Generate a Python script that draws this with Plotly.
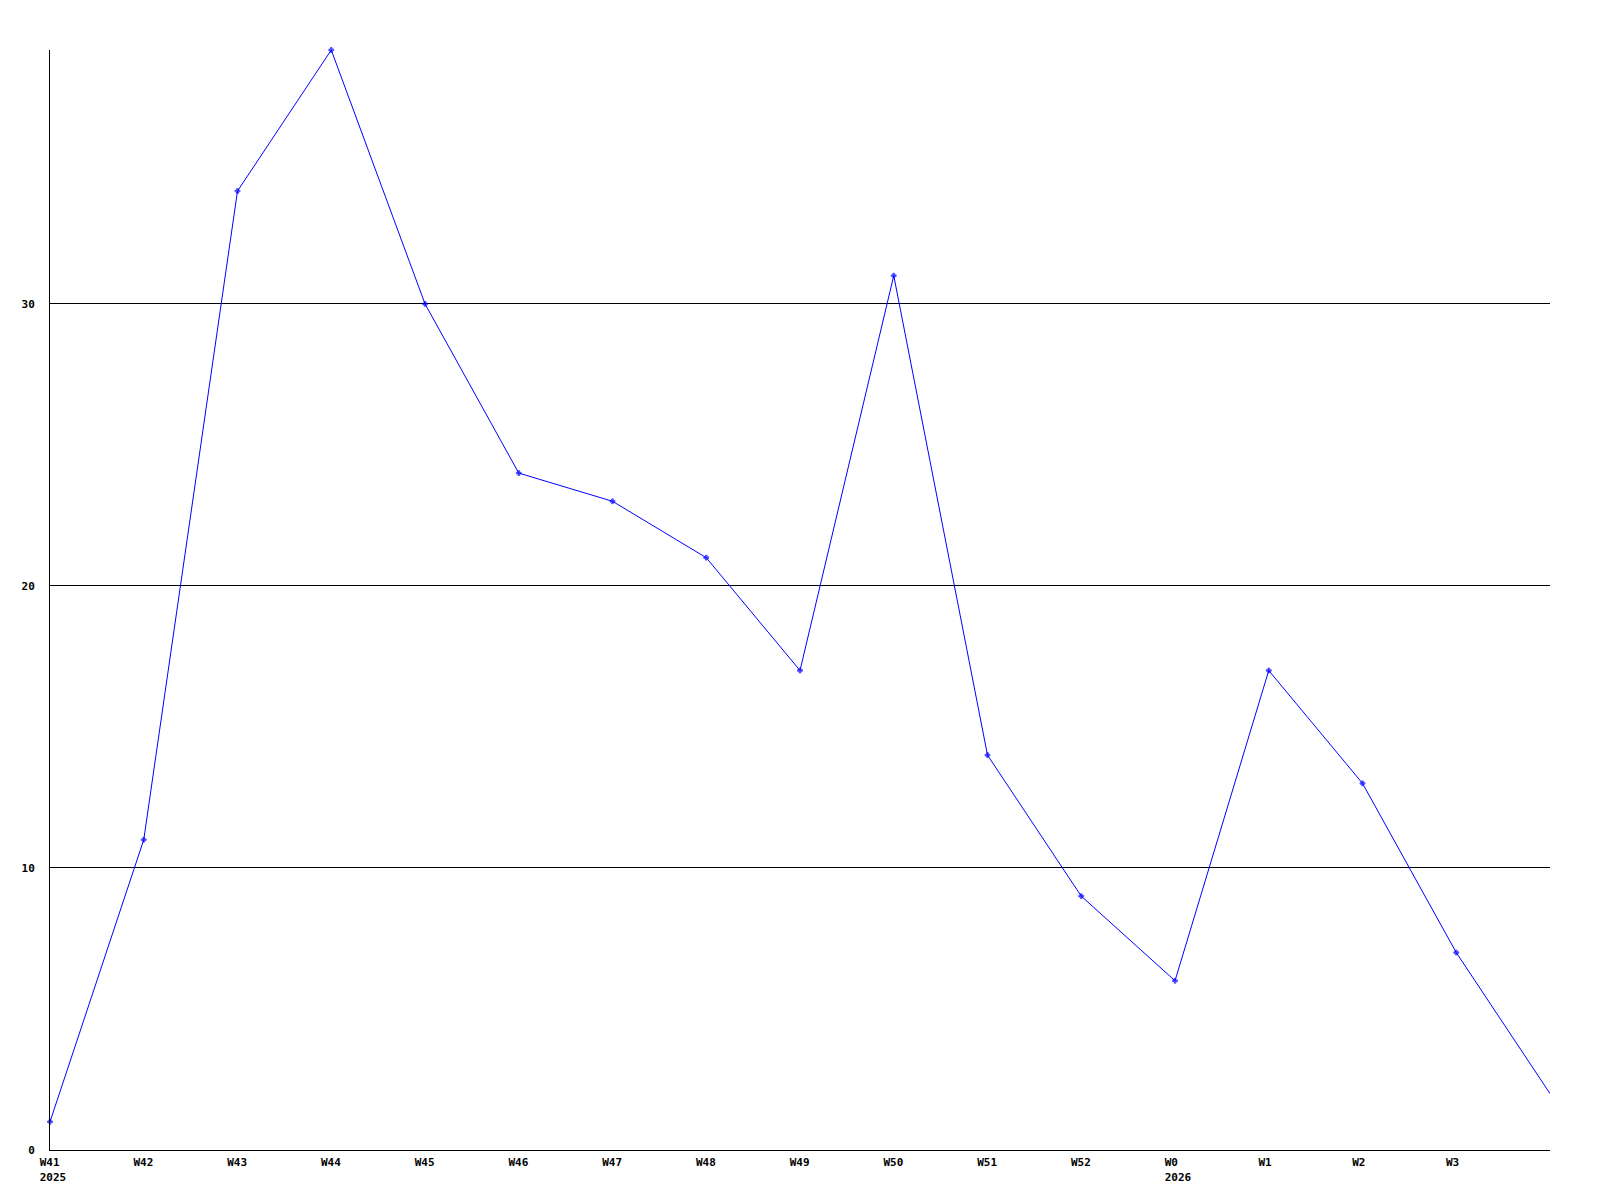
import plotly.graph_objects as go

weeks = ["W41", "W42", "W43", "W44", "W45", "W46", "W47", "W48", "W49",
         "W50", "W51", "W52", "W0", "W1", "W2", "W3", "W4"]
years = {"W41": "2025", "W0": "2026"}
values = [1, 11, 34, 39, 30, 24, 23, 21, 17, 31, 14, 9, 6, 17, 13, 7, 2]
y_ticks = [0, 10, 20, 30]

x = list(range(len(weeks)))
NB = "\u00a0"


def pad(s, n=4):
    return s + NB * (n - len(s))


labels = [pad(w) + ("<br>" + pad(years[w]) if w in years else "") for w in weeks]

sizes = [4] * (len(weeks) - 1) + [0]

fig = go.Figure()
fig.add_trace(go.Scatter(
    x=x, y=values, mode="lines+markers",
    line=dict(color="#0000ff", width=1),
    marker=dict(symbol="cross", size=sizes, color="#0000ff",
                line=dict(color="#0000ff", width=1)),
    cliponaxis=False,
    showlegend=False,
))

font = dict(family="DejaVu Sans Mono", size=11, color="black", weight="bold")
fig.update_layout(
    width=1600, height=1200,
    margin=dict(l=42, r=58, t=42, b=58, autoexpand=False),
    plot_bgcolor="white", paper_bgcolor="white",
    font=font,
    xaxis=dict(
        range=[0, 16], tickvals=x[:-1], ticktext=labels[:-1],
        showgrid=False, zeroline=False, showline=True, linecolor="black",
        linewidth=1, ticks="", tickfont=font, tickangle=0,
        ticklabelstandoff=2, ticklabelshift=3,
    ),
    yaxis=dict(
        range=[0, 39], tickvals=y_ticks, showgrid=True, gridcolor="black",
        gridwidth=1, zeroline=False, showline=True, linecolor="black",
        linewidth=1, ticks="", tickfont=font, ticklabelstandoff=12,
    ),
)
fig.write_html("out.html")
